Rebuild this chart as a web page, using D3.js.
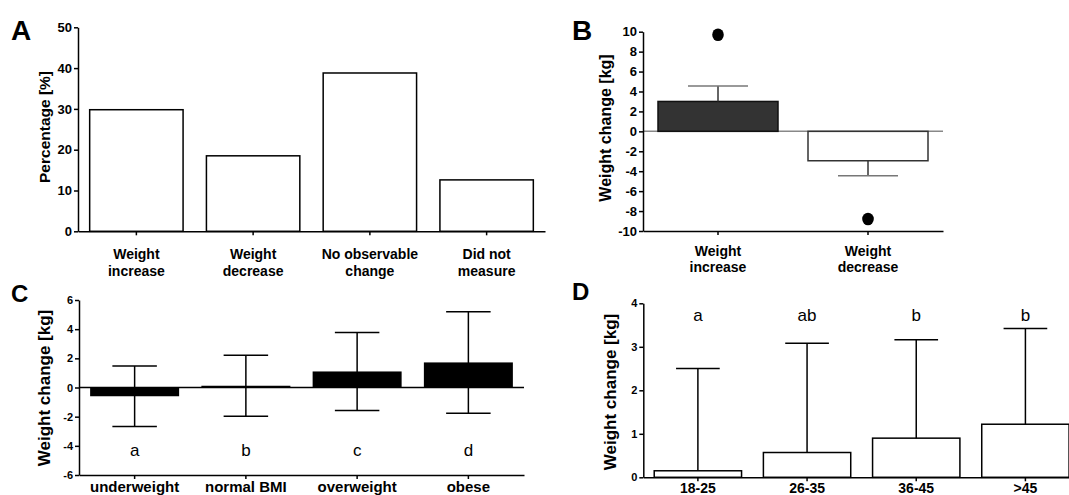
<!DOCTYPE html>
<html>
<head>
<meta charset="utf-8">
<script src="https://cdn.jsdelivr.net/npm/d3@7"></script>
<style>
  body { margin: 0; background: #fff; }
  svg { display: block; }
  text { font-family: "Liberation Sans", Arial, sans-serif; fill: #000; }
</style>
</head>
<body>
<svg width="1069" height="495"></svg>
<script>
// A - what people reported
var outcomeLabels = [["Weight", "increase"], ["Weight", "decrease"], ["No observable", "change"], ["Did not", "measure"]];
var outcomePct = [29.8, 18.5, 38.8, 12.6];
var pctTicks = [0, 10, 20, 30, 40, 50];

// B - size of the change
var directionLabels = [["Weight", "increase"], ["Weight", "decrease"]];
var directionMean = [3.0, -2.95];
var directionErr = [1.55, 1.5];
var directionOutlier = [9.7, -8.8];
var directionTicks = [-10, -8, -6, -4, -2, 0, 2, 4, 6, 8, 10];

// C - by BMI group
var bmiLabels = ["underweight", "normal BMI", "overweight", "obese"];
var bmiMean = [-0.6, 0.12, 1.1, 1.72];
var bmiSd = [2.07, 2.09, 2.68, 3.48];
var bmiLetters = ["a", "b", "c", "d"];
var bmiTicks = [-6, -4, -2, 0, 2, 4, 6];

// D - by age group
var ageLabels = ["18-25", "26-35", "36-45", ">45"];
var ageMean = [0.15, 0.57, 0.9, 1.22];
var ageSd = [2.35, 2.51, 2.26, 2.2];
var ageLetters = ["a", "ab", "b", "b"];
var ageTicks = [0, 1, 2, 3, 4];

var svg = d3.select("svg");

function leftAxis(g, y, ticks, x, size) {
    var ax = g.append("g")
        .attr("transform", "translate(" + x + ",0)")
        .call(d3.axisLeft(y).tickValues(ticks).tickSize(4).tickSizeOuter(0).tickPadding(2)
            .tickFormat(function(d) { return String(d); }));
    ax.selectAll("path, line").attr("stroke", "#000").attr("stroke-width", 1.5);
    ax.selectAll("text").attr("font-size", size).attr("font-weight", "bold")
        .attr("font-family", "'Liberation Sans', Arial, sans-serif");
    return ax;
}

function bottomAxis(g, x, yPos) {
    var ax = g.append("g")
        .attr("transform", "translate(0," + yPos + ")")
        .call(d3.axisBottom(x).tickSize(4).tickSizeOuter(0).tickFormat(""));
    ax.selectAll("path, line").attr("stroke", "#000").attr("stroke-width", 1.5);
    return ax;
}

function yTitle(g, txt, cx, cy, size) {
    g.append("text")
        .attr("transform", "translate(" + cx + "," + cy + ") rotate(-90)")
        .attr("text-anchor", "middle")
        .attr("dy", "0.35em")
        .attr("font-size", size)
        .attr("font-weight", "bold")
        .text(txt);
}

function panelLetter(txt, x, y, size) {
    svg.append("text").attr("x", x).attr("y", y)
        .attr("font-size", size).attr("font-weight", "bold").text(txt);
}

function twoLineLabels(g, x, labels, y1, y2, size) {
    labels.forEach(function(d, i) {
        var cx = x(i) + x.bandwidth() / 2;
        g.append("text").attr("x", cx).attr("y", y1).attr("text-anchor", "middle")
            .attr("font-size", size).attr("font-weight", "bold").text(d[0]);
        g.append("text").attr("x", cx).attr("y", y2).attr("text-anchor", "middle")
            .attr("font-size", size).attr("font-weight", "bold").text(d[1]);
    });
}

// ---------- A ----------
var gA = svg.append("g");
var xA = d3.scaleBand().domain(d3.range(outcomePct.length)).range([78, 545]).paddingInner(0.2).paddingOuter(0.1);
var yA = d3.scaleLinear().domain([0, 50]).range([231.3, 27.3]);

gA.selectAll(".bar")
    .data(outcomePct)
    .enter()
    .append("rect")
    .attr("x", function(d, i) { return xA(i); })
    .attr("y", function(d) { return yA(d); })
    .attr("width", xA.bandwidth())
    .attr("height", function(d) { return yA(0) - yA(d); })
    .attr("fill", "#fff")
    .attr("stroke", "#000")
    .attr("stroke-width", 1.5);

leftAxis(gA, yA, pctTicks, 78, 13);
bottomAxis(gA, xA, yA(0));
twoLineLabels(gA, xA, outcomeLabels, 259, 276, 14);
yTitle(gA, "Percentage [%]", 45, 127, 15.5);
panelLetter("A", 11, 40, 28);

// ---------- B ----------
var gB = svg.append("g");
var xB = d3.scaleBand().domain(d3.range(directionMean.length)).range([643, 943]).paddingInner(0.2).paddingOuter(0.1);
var yB = d3.scaleLinear().domain([-10, 10]).range([231, 31.7]);

// zero line
gB.append("line")
    .attr("x1", 643).attr("x2", 943)
    .attr("y1", yB(0)).attr("y2", yB(0))
    .attr("stroke", "#888").attr("stroke-width", 1.5);

gB.selectAll(".bar")
    .data(directionMean)
    .enter()
    .append("rect")
    .attr("x", function(d, i) { return xB(i); })
    .attr("y", function(d) { return yB(Math.max(0, d)); })
    .attr("width", xB.bandwidth())
    .attr("height", function(d) { return Math.abs(yB(0) - yB(d)); })
    .attr("fill", function(d, i) { return i == 0 ? "#333" : "#fff"; })
    .attr("stroke", function(d, i) { return i == 0 ? "#111" : "#333"; })
    .attr("stroke-width", 1.5);

directionMean.forEach(function(d, i) {
    var cx = xB(i) + xB.bandwidth() / 2;
    var end = d >= 0 ? d + directionErr[i] : d - directionErr[i];
    gB.append("line").attr("x1", cx).attr("x2", cx)
        .attr("y1", yB(d)).attr("y2", yB(end))
        .attr("stroke", "#333").attr("stroke-width", 1.5);
    gB.append("line").attr("x1", cx - xB.bandwidth() / 4).attr("x2", cx + xB.bandwidth() / 4)
        .attr("y1", yB(end)).attr("y2", yB(end))
        .attr("stroke", "#777").attr("stroke-width", 1.5);
    gB.append("ellipse").attr("cx", cx).attr("cy", yB(directionOutlier[i]))
        .attr("rx", 5.8).attr("ry", 6.3).attr("fill", "#000");
});

leftAxis(gB, yB, directionTicks, 643, 13);
bottomAxis(gB, xB, yB(-10));
twoLineLabels(gB, xB, directionLabels, 256, 272, 14);
yTitle(gB, "Weight change [kg]", 605, 128, 16);
panelLetter("B", 572, 40, 28);

// ---------- C ----------
var gC = svg.append("g");
var xC = d3.scaleBand().domain(d3.range(bmiMean.length)).range([79, 524]).paddingInner(0.2).paddingOuter(0.1);
var yC = d3.scaleLinear().domain([-6, 6]).range([475, 300]);

gC.selectAll(".bar")
    .data(bmiMean)
    .enter()
    .append("rect")
    .attr("x", function(d, i) { return xC(i); })
    .attr("y", function(d) { return yC(Math.max(0, d)); })
    .attr("width", xC.bandwidth())
    .attr("height", function(d) { return Math.abs(yC(0) - yC(d)); })
    .attr("fill", "#000");

gC.append("line")
    .attr("x1", 79).attr("x2", 524)
    .attr("y1", yC(0)).attr("y2", yC(0))
    .attr("stroke", "#000").attr("stroke-width", 1.5);

bmiMean.forEach(function(d, i) {
    var cx = xC(i) + xC.bandwidth() / 2;
    var hw = xC.bandwidth() / 4;
    var hi = d + bmiSd[i], lo = d - bmiSd[i];
    gC.append("line").attr("x1", cx).attr("x2", cx)
        .attr("y1", yC(lo)).attr("y2", yC(hi))
        .attr("stroke", "#000").attr("stroke-width", 1.5);
    [hi, lo].forEach(function(v) {
        gC.append("line").attr("x1", cx - hw).attr("x2", cx + hw)
            .attr("y1", yC(v)).attr("y2", yC(v))
            .attr("stroke", "#000").attr("stroke-width", 1.5);
    });
    gC.append("text").attr("x", cx).attr("y", 456).attr("text-anchor", "middle")
        .attr("font-size", 17).text(bmiLetters[i]);
    gC.append("text").attr("x", cx).attr("y", 492).attr("text-anchor", "middle")
        .attr("font-size", 15).attr("font-weight", "bold").text(bmiLabels[i]);
});

leftAxis(gC, yC, bmiTicks, 79, 11);
bottomAxis(gC, xC, yC(-6));
yTitle(gC, "Weight change [kg]", 44, 388, 17);
panelLetter("C", 11, 302, 24);

// ---------- D ----------
var gD = svg.append("g");
var xD = d3.scaleBand().domain(d3.range(ageMean.length)).range([643.3, 1080]).paddingInner(0.2).paddingOuter(0.1);
var yD = d3.scaleLinear().domain([0, 4]).range([477.3, 303.3]);

gD.selectAll(".bar")
    .data(ageMean)
    .enter()
    .append("rect")
    .attr("x", function(d, i) { return xD(i); })
    .attr("y", function(d) { return yD(d); })
    .attr("width", xD.bandwidth())
    .attr("height", function(d) { return yD(0) - yD(d); })
    .attr("fill", "#fff")
    .attr("stroke", "#000")
    .attr("stroke-width", 1.5);

ageMean.forEach(function(d, i) {
    var cx = xD(i) + xD.bandwidth() / 2;
    var hi = d + ageSd[i];
    gD.append("line").attr("x1", cx).attr("x2", cx)
        .attr("y1", yD(d)).attr("y2", yD(hi))
        .attr("stroke", "#000").attr("stroke-width", 1.5);
    gD.append("line").attr("x1", cx - xD.bandwidth() / 4).attr("x2", cx + xD.bandwidth() / 4)
        .attr("y1", yD(hi)).attr("y2", yD(hi))
        .attr("stroke", "#000").attr("stroke-width", 1.5);
    gD.append("text").attr("x", cx).attr("y", 321).attr("text-anchor", "middle")
        .attr("font-size", 17).text(ageLetters[i]);
    gD.append("text").attr("x", cx).attr("y", 493).attr("text-anchor", "middle")
        .attr("font-size", 14).attr("font-weight", "bold").text(ageLabels[i]);
});

leftAxis(gD, yD, ageTicks, 643.3, 11);
bottomAxis(gD, xD, yD(0));
yTitle(gD, "Weight change [kg]", 610, 392, 17);
panelLetter("D", 572, 300, 24);
</script>
</body>
</html>
